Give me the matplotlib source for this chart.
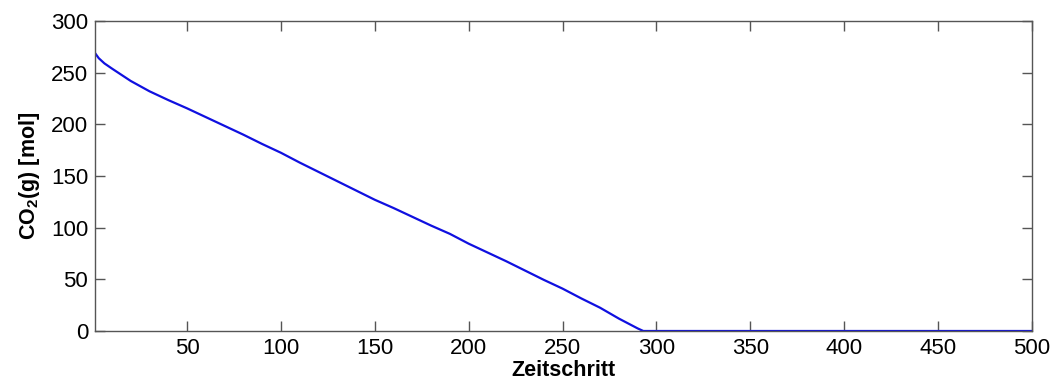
import matplotlib
matplotlib.use("Agg")
import matplotlib.pyplot as plt

plt.rcParams["font.family"] = ["Liberation Sans", "DejaVu Sans"]
plt.rcParams["mathtext.fontset"] = "custom"
plt.rcParams["mathtext.rm"] = "Liberation Sans"
plt.rcParams["mathtext.bf"] = "Liberation Sans:bold"

# CO2 gas amount per time step (read at sample steps)
steps = [1, 3, 6, 10, 20, 30, 40, 50, 60, 70, 80, 90, 100, 110, 120, 130,
         140, 150, 160, 170, 180, 190, 200, 210, 220, 230, 240, 250, 260,
         270, 280, 290, 293, 500]
co2_mol = [269, 264, 259, 254, 242, 232, 223.5, 215.5, 207, 198.5, 190, 181,
           172.5, 163, 154, 145, 136, 127, 119, 110.5, 102, 94, 84.5, 76,
           67.5, 58.5, 49.5, 41, 31.5, 22.5, 12, 2.5, 0, 0]

x_ticks = [50, 100, 150, 200, 250, 300, 350, 400, 450, 500]
y_ticks = [0, 50, 100, 150, 200, 250, 300]

fig = plt.figure(figsize=(10.54, 3.9), dpi=100)
ax = fig.add_axes([95 / 1054, 59 / 390, 937 / 1054, 310 / 390])

ax.plot(steps, co2_mol, color="#1010e0", lw=1.6)

ax.set_xlim(1, 500)
ax.set_ylim(0, 300)
ax.set_xticks(x_ticks)
ax.set_yticks(y_ticks)
ax.tick_params(direction="in", length=7, width=1, colors="#555555",
               labelcolor="black", labelsize=16, top=True, right=True, pad=5)
for sp in ax.spines.values():
    sp.set_color("#555555")
    sp.set_linewidth(1)

ax.set_xlabel("Zeitschritt", fontsize=15.5, fontweight="bold", labelpad=1)
ax.set_ylabel(r"CO$_{\mathbf{2}}$(g) [mol]", fontsize=15.5, fontweight="bold",
              labelpad=6)

fig.savefig("out.png", dpi=100)
